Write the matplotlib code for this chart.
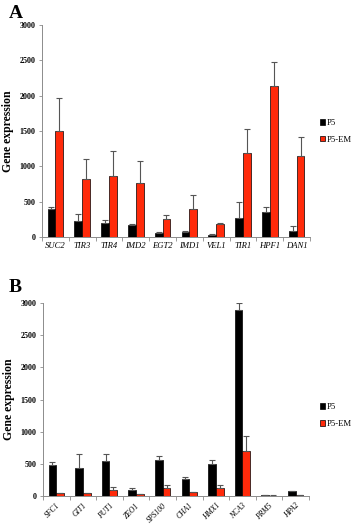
import numpy as np
import matplotlib
matplotlib.use("Agg")
import matplotlib.pyplot as plt

plt.rcParams['font.family'] = ['Liberation Serif', 'DejaVu Serif']

# panel A
genes_a = ['SUC2', 'TIR3', 'TIR4', 'IMD2', 'EGT2', 'IMD1', 'VEL1', 'TIR1', 'HPF1', 'DAN1']
p5_a = [400, 220, 200, 175, 60, 70, 30, 270, 355, 85]
p5_a_err = [30, 110, 40, 10, 10, 20, 10, 225, 70, 70]
em_a = [1500, 820, 860, 760, 260, 390, 180, 1185, 2140, 1150]
em_a_err = [470, 280, 360, 320, 50, 210, 20, 335, 330, 260]

# panel B
genes_b = ['SFC1', 'GIT1', 'PUT1', 'ZEO1', 'SPS100', 'CHA1', 'HMX1', 'NCA3', 'PRM5', 'HPA2']
p5_b = [480, 440, 550, 100, 560, 270, 500, 2900, 15, 75]
p5_b_err = [50, 210, 100, 20, 70, 25, 60, 100, 5, 5]
em_b = [50, 50, 90, 30, 120, 60, 125, 705, 8, 15]
em_b_err = [5, 5, 50, 5, 60, 5, 50, 235, 2, 3]

red = '#ff2a0a'
grey = '#8c8c8c'

fig = plt.figure(figsize=(3.58, 5.30), dpi=100)
ax1 = fig.add_axes([0.117, 0.553, 0.749, 0.400])
ax2 = fig.add_axes([0.120, 0.064, 0.743, 0.364])

def draw(ax, genes, p5, p5err, em, emerr, rotate):
    x = np.arange(len(genes))
    w = 0.29
    ax.bar(x - w / 2, p5, w, color='black', edgecolor='black', linewidth=0.5,
           yerr=[np.zeros(len(p5)), p5err], error_kw=dict(ecolor='#555555', elinewidth=0.8, capsize=2, capthick=0.8),
           label='P5')
    ax.bar(x + w / 2, em, w, color=red, edgecolor='black', linewidth=0.5,
           yerr=[np.zeros(len(em)), emerr], error_kw=dict(ecolor='#555555', elinewidth=0.8, capsize=2, capthick=0.8),
           label='P5-EM')
    ax.set_xlim(-0.5, len(genes) - 0.5)
    ax.set_ylim(0, 3000)
    ax.set_yticks(range(0, 3001, 500))
    ax.set_xticks(x)
    if rotate:
        ax.set_xticklabels(genes, style='italic', fontsize=5.5, rotation=45, ha='right', rotation_mode='anchor')
    else:
        ax.set_xticklabels(genes, style='italic', fontsize=6.2)
    ax.set_xticks(np.arange(-0.5, len(genes)), minor=True)
    ax.tick_params(axis='x', which='major', length=0, pad=4)
    ax.tick_params(axis='x', which='minor', length=3, color=grey, width=0.6)
    ax.tick_params(axis='y', labelsize=5.8, length=2.5, color=grey, width=0.6, pad=2)
    for lab in ax.get_yticklabels():
        lab.set_fontweight('bold')
    for s in ['top', 'right']:
        ax.spines[s].set_visible(False)
    for s in ['left', 'bottom']:
        ax.spines[s].set_color(grey)
        ax.spines[s].set_linewidth(0.7)
    ax.set_ylabel('Gene expression', fontsize=8.5, fontweight='bold', labelpad=4)

draw(ax1, genes_a, p5_a, p5_a_err, em_a, em_a_err, False)
draw(ax2, genes_b, p5_b, p5_b_err, em_b, em_b_err, True)

for ax, y in [(ax1, 0.752), (ax2, 0.216)]:
    fig.legend(*ax.get_legend_handles_labels(), loc='center left', bbox_to_anchor=(0.885, y),
               frameon=False, fontsize=6.2, handlelength=0.6, handleheight=0.6, handletextpad=0.2,
               labelspacing=1.0, borderaxespad=0)

fig.text(0.025, 0.975, 'A', fontsize=14, fontweight='bold', va='center')
fig.text(0.025, 0.457, 'B', fontsize=14, fontweight='bold', va='center')

fig.savefig('out.png', dpi=100, facecolor='white')
